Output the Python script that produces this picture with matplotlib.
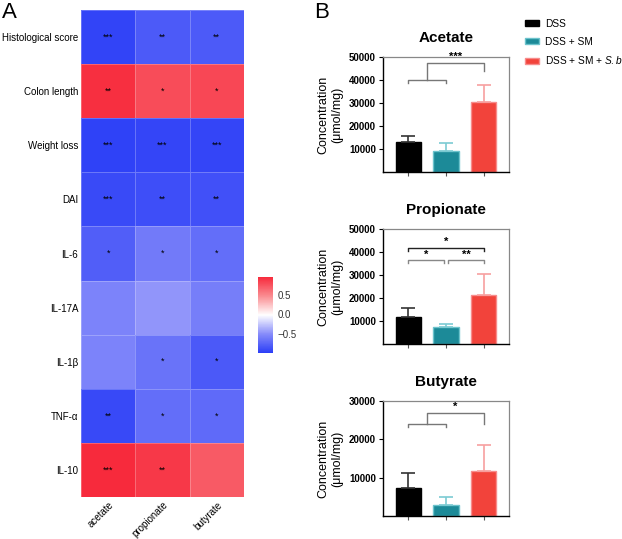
import numpy as np
import matplotlib
matplotlib.use("Agg")
import matplotlib.pyplot as plt
from matplotlib.colors import LinearSegmentedColormap
from matplotlib.patches import Patch

plt.rcParams['font.family'] = ['Liberation Sans', 'DejaVu Sans']
plt.rcParams['mathtext.fontset'] = 'custom'
plt.rcParams['mathtext.it'] = 'Liberation Sans:italic'
plt.rcParams['mathtext.rm'] = 'Liberation Sans'

# ---- data: correlation heatmap (panel A) ----
rows = ["Histological score", "Colon length", "Weight loss", "DAI", "IL-6",
        "IL-17A", "IL-1β", "TNF-α", "IL-10"]
acids = ["acetate", "propionate", "butyrate"]
corr = np.array([
    [-0.96, -0.82, -0.82],
    [0.92, 0.78, 0.80],
    [-0.97, -0.95, -0.95],
    [-0.92, -0.90, -0.88],
    [-0.80, -0.62, -0.70],
    [-0.57, -0.47, -0.60],
    [-0.57, -0.67, -0.83],
    [-0.93, -0.70, -0.72],
    [0.95, 0.88, 0.71],
])
stars = [
    ["***", "**", "**"],
    ["**", "*", "*"],
    ["***", "***", "***"],
    ["***", "**", "**"],
    ["*", "*", "*"],
    ["", "", ""],
    ["", "*", "*"],
    ["**", "*", "*"],
    ["***", "**", ""],
]

# ---- data: SCFA concentrations (panel B) ----
groups = ["DSS", "DSS + SM", "DSS + SM + $\\it{S.b}$"]
acetate_mean = [13200, 9000, 30500]
acetate_top = [15500, 12600, 38000]
propionate_mean = [11800, 7200, 21500]
propionate_top = [15800, 8800, 30300]
butyrate_mean = [7300, 2800, 11700]
butyrate_top = [11300, 4900, 18500]

W, H = 622, 539
fig = plt.figure(figsize=(W / 100, H / 100), dpi=100)


def px(l, t, r, b):
    return [l / W, 1 - b / H, (r - l) / W, (b - t) / H]


# ---------------- panel A ----------------
cmap = LinearSegmentedColormap.from_list(
    "bwr2", ["#2b3ef7", "#878cfa", "#ffffff", "#fa8c91", "#f72a3c"])
ax = fig.add_axes(px(81, 10, 244, 497))
im = ax.pcolormesh(corr, cmap=cmap, vmin=-1.0, vmax=0.95,
                   edgecolors=(1, 1, 1, 0.25), linewidth=0.6)
ax.set_ylim(len(rows), 0)
ax.set_xlim(0, len(acids))
ax.set_yticks(np.arange(len(rows)) + 0.5)
ax.set_yticklabels(rows, fontsize=7)
ax.set_xticks(np.arange(len(acids)) + 0.5)
ax.set_xticklabels(acids, rotation=45, ha="right", rotation_mode="anchor", fontsize=7)
ax.tick_params(axis="y", length=0, pad=2)
ax.tick_params(axis="x", length=0, pad=2)
for s in ax.spines.values():
    s.set_visible(False)
for i in range(len(rows)):
    for j in range(len(acids)):
        if stars[i][j]:
            ax.text(j + 0.5, i + 0.5, stars[i][j], ha="center", va="center",
                    fontsize=6.5, color="black")

cax = fig.add_axes(px(258, 277, 273, 353))
cb = fig.colorbar(im, cax=cax, ticks=[0.5, 0.0, -0.5])
cb.outline.set_visible(False)
cb.ax.tick_params(length=0, labelsize=7, colors="#333333", pad=3)
cb.ax.set_yticklabels(["0.5", "0.0", "\u22120.5"])

fig.text(2 / W, 1 - 12 / H, "A", fontsize=16, ha="left", va="center")
fig.text(314 / W, 1 - 12 / H, "B", fontsize=16, ha="left", va="center")

# ---------------- panel B ----------------
fills = ["#000000", "#1c8a98", "#f2433b"]
edges = ["#000000", "#6cc3cc", "#f78c8c"]
errc = ["#333333", "#7ccbd3", "#f7a0a0"]
x = np.arange(3)


def bar_panel(rect, title, means, tops, ymax, yticks, brackets):
    a = fig.add_axes(rect)
    a.bar(x, means, width=0.66, color=fills, edgecolor=edges, linewidth=1)
    for k in range(3):
        a.errorbar(x[k], means[k], yerr=[[0], [tops[k] - means[k]]], fmt="none",
                   ecolor=errc[k], elinewidth=1.2, capsize=5, capthick=1.2)
    a.set_xlim(-0.66, 2.66)
    a.set_ylim(0, ymax)
    a.set_yticks(yticks)
    a.set_yticklabels([str(t) for t in yticks], fontsize=7, fontweight="bold")
    a.set_xticks(x)
    a.set_xticklabels([])
    a.tick_params(axis="y", length=3, width=0.8, pad=2)
    a.tick_params(axis="x", length=3, width=0.8, color="#555555")
    a.spines["left"].set_linewidth(1)
    a.spines["bottom"].set_linewidth(1)
    for s in ("top", "right"):
        a.spines[s].set_color("#888888")
        a.spines[s].set_linewidth(0.9)
    a.set_title(title, fontsize=11, fontweight="bold", pad=11)
    a.set_ylabel("Concentration\n(μmol/mg)", fontsize=9, labelpad=4)
    for br in brackets:
        br(a)
    return a


def pair_bracket(x0, x1, y, tick, label, color):
    def draw(a):
        a.plot([x0, x0, x1, x1], [y - tick, y, y, y - tick], color=color, lw=1,
               clip_on=False)
        a.text((x0 + x1) / 2, y + tick * 0.2, label, ha="center", va="bottom",
               fontsize=8, fontweight="bold")
    return draw


def group_bracket(ylow, yhigh, yright, tick, label, color):
    def draw(a):
        a.plot([0, 0, 1, 1], [ylow - tick, ylow, ylow, ylow - tick], color=color,
               lw=1, clip_on=False)
        a.plot([0.5, 0.5, 2, 2], [ylow, yhigh, yhigh, yright], color=color, lw=1,
               clip_on=False)
        a.text(1.25, yhigh + tick * 0.2, label, ha="center", va="bottom",
               fontsize=8, fontweight="bold")
    return draw


bar_panel(px(383, 57, 509, 172), "Acetate", acetate_mean, acetate_top, 50000,
          [10000, 20000, 30000, 40000, 50000],
          [group_bracket(40000, 47500, 44000, 1200, "***", "#777777")])
bar_panel(px(383, 229, 509, 344), "Propionate", propionate_mean, propionate_top, 50000,
          [10000, 20000, 30000, 40000, 50000],
          [pair_bracket(0, 2, 41800, 1300, "*", "#222222"),
           pair_bracket(0, 0.95, 36500, 1300, "*", "#888888"),
           pair_bracket(1.05, 2, 36500, 1300, "**", "#888888")])
bar_panel(px(383, 401, 509, 516), "Butyrate", butyrate_mean, butyrate_top, 30000,
          [10000, 20000, 30000],
          [group_bracket(24000, 27000, 24000, 800, "*", "#777777")])

handles = [Patch(facecolor=fills[k], edgecolor=edges[k]) for k in range(3)]
fig.legend(handles, groups, loc="upper left", bbox_to_anchor=(525 / W, 1 - 19 / H),
           frameon=False, fontsize=7.3, handlelength=1.4, handleheight=0.55,
           handletextpad=0.6, labelspacing=0.75, borderaxespad=0, borderpad=0)

fig.savefig("out.png", dpi=100)
